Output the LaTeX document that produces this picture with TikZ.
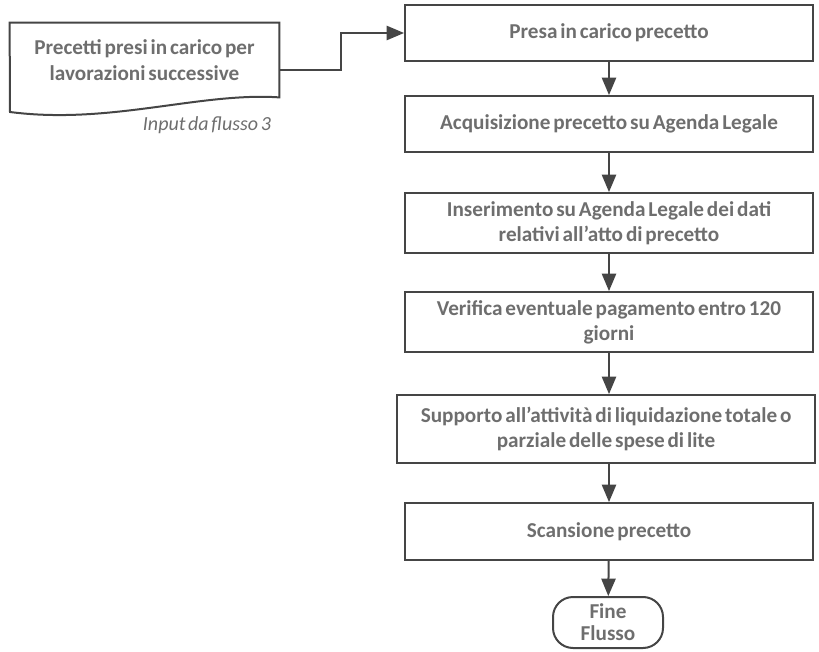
\documentclass[tikz,border=0pt]{standalone}
\usepackage{fontspec}
\setmainfont{Carlito}[WordSpace=0.6]
\usetikzlibrary{shapes.geometric, arrows}
\definecolor{linegray}{HTML}{454545}
\definecolor{textgray}{HTML}{6E6E6E}
\tikzstyle{arrow} = [line width=1pt,draw=linegray,->,>=triangle 45]
\tikzstyle{process} = [rectangle, draw=linegray, line width=1pt, minimum width=204pt, align=center, font=\fontsize{10.6}{12.5}\selectfont\bfseries, text=textgray]
\tikzstyle{terminal} = [rectangle, rounded corners=10pt, draw=linegray, line width=1pt, minimum width=55pt, minimum height=25.5pt, align=center, font=\fontsize{10.6}{11}\selectfont\bfseries, text=textgray]

\begin{document}
\begin{tikzpicture}[x=0.5pt,y=-0.5pt]
	\useasboundingbox (0,0) rectangle (819,652);
	% input document
	\node[minimum width=134.5pt, minimum height=37pt, align=center, font=\fontsize{10.6}{13}\selectfont\bfseries, text=textgray] (doc) at (144.5,60) {Precetti presi in carico per\\lavorazioni successive};
	\draw[draw=linegray, line width=1pt] (doc.north west) -- (doc.north east) -- (doc.south east)
		.. controls (200,92) and (110,125) .. (10,112) -- cycle;
	\node[font=\fontsize{10}{12}\selectfont\itshape, text=textgray] (inlab) at (207,125) {Input da flusso 3};
	% steps
	\node[process, minimum height=28pt] (presa) at (609,33) {Presa in carico precetto};
	\node[process, minimum height=28pt] (acq) at (609,124) {Acquisizione precetto su Agenda Legale};
	\node[process, minimum height=30pt] (ins) at (609,223) {Inserimento su Agenda Legale dei dati\\relativi all’atto di precetto};
	\node[process, minimum height=30pt] (ver) at (609,322) {Verifica eventuale pagamento entro 120\\giorni};
	\node[process, minimum height=34pt, minimum width=209pt] (supp) at (606,429) {Supporto all’attività di liquidazione totale o\\parziale delle spese di lite};
	\node[process, minimum height=28.5pt] (scan) at (609,531.5) {Scansione precetto};
	\node[terminal] (fine) at (608,622.5) {Fine\\Flusso};
	% connectors
	\coordinate (docout) at ([yshift=-5pt]doc.east);
	\draw[arrow] (docout) -- (341,70) |- (presa.west);
	\draw[arrow] (presa) -- (acq);
	\draw[arrow] (acq) -- (ins);
	\draw[arrow] (ins) -- (ver);
	\draw[arrow] (ver) -- (ver |- supp.north);
	\draw[arrow] (scan |- supp.south) -- (scan);
	\draw[arrow] (scan) -- (fine);
\end{tikzpicture}
\end{document}
